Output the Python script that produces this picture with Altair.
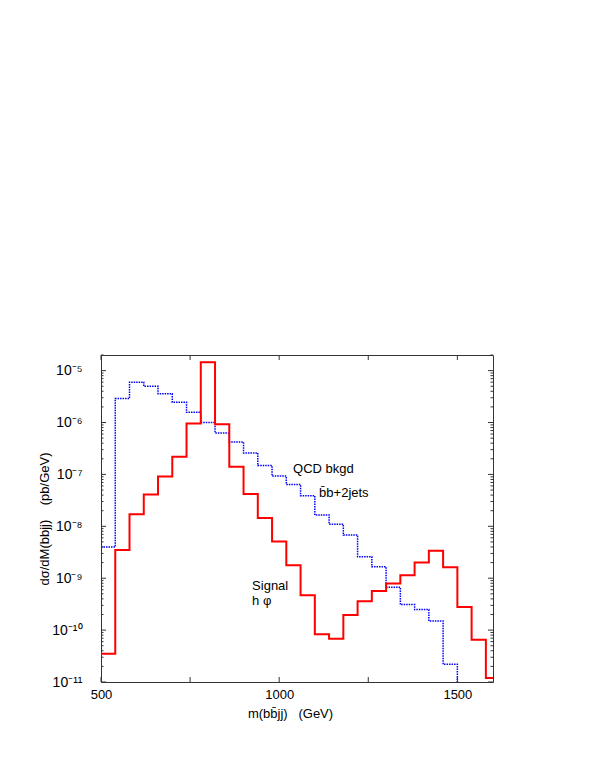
import altair as alt
import pandas as pd

# ---- data ----
bin_lo = [500, 540, 580, 620, 660, 700, 740, 780, 820, 860, 900, 940, 980, 1020,
          1060, 1100, 1140, 1180, 1220, 1260, 1300, 1340, 1380, 1420, 1460, 1500,
          1540, 1580]
bin_width = 40

# QCD background  b bbar + 2 jets  (pb/GeV), bins 500 .. 1460; nothing above 1500
qcd = [4.0e-9, 2.9e-6, 6.0e-6, 5.0e-6, 3.6e-6, 2.45e-6, 1.57e-6, 1.0e-6, 6.3e-7,
       4.2e-7, 2.6e-7, 1.48e-7, 9.3e-8, 6.4e-8, 3.9e-8, 1.65e-8, 1.1e-8, 6.8e-9,
       2.6e-9, 1.66e-9, 6.7e-10, 3.1e-10, 2.5e-10, 1.5e-10, 2.2e-11]
qcd_below = 1e-12   # the histogram falls off the bottom of the plot at 1500 GeV

# Signal h phi (pb/GeV), bins 500 .. 1580
signal = [3.5e-11, 3.5e-9, 1.7e-8, 4.1e-8, 9.1e-8, 2.2e-7, 9.6e-7, 1.45e-5, 9.3e-7,
          1.4e-7, 4.2e-8, 1.44e-8, 5.1e-9, 1.78e-9, 4.7e-10, 8.3e-11, 6.8e-11,
          1.95e-10, 3.6e-10, 5.7e-10, 7.9e-10, 1.14e-9, 2.0e-9, 3.4e-9, 1.62e-9,
          2.8e-10, 6.5e-11, 1.2e-11]

x_domain = [500, 1600]
y_domain = [1e-11, 2e-5]
x_major = [500, 1000, 1500]
x_ticks = [500, 750, 1000, 1250, 1500]
y_exponents = [-11, -10, -9, -8, -7, -6, -5]
minor_mult = [2, 3, 4, 5, 6, 7, 8, 9]

annotations = pd.DataFrame({
    "m": [1039, 1112, 924, 924],
    "v": [1.06e-7, 3.6e-8, 5.8e-10, 3.0e-10],
    "label": ["QCD bkgd", "b\u0304b+2jets", "Signal", "h \u03c6"],
})

# ---- tables ----
n_q = len(qcd)
qcd_df = pd.DataFrame({
    "m": bin_lo[:n_q] + [bin_lo[n_q], bin_lo[n_q] + bin_width],
    "v": qcd + [qcd_below, qcd_below],
})
sig_df = pd.DataFrame({
    "m": bin_lo + [bin_lo[-1] + bin_width],
    "v": signal + [signal[-1]],
})

y_major = [10.0 ** e for e in y_exponents]
y_minor = [m * 10.0 ** e for e in y_exponents for m in minor_mult
           if m * 10.0 ** e <= y_domain[1]]
ymaj_df = pd.DataFrame({"v": y_major})
ymin_df = pd.DataFrame({"v": y_minor})
xt_df = pd.DataFrame({"m": x_ticks})

W, H = 392, 327
FONT = "Liberation Sans"
FRAME = "#333333"

sup = str.maketrans("-0123456789", "\u207b\u2070\u00b9\u00b2\u00b3\u2074\u2075\u2076\u2077\u2078\u2079")
expr = "''"
for e in y_exponents:
    expr = f"abs(log(datum.value)/LN10 - ({e})) < 0.1 ? '10{str(e).translate(sup)}' : ({expr})"

xs = alt.Scale(domain=x_domain, nice=False, zero=False)
ys = alt.Scale(type="log", domain=y_domain, nice=False)

x_axis = alt.Axis(values=x_major, format="d", ticks=False, domain=False, grid=False,
                  labelFlush=False, labelOverlap=False,
                  labelFont=FONT, labelFontSize=13, labelColor="black", labelPadding=6,
                  title="m(bb\u0304jj)\u00a0\u00a0\u00a0(GeV)", titleFont=FONT,
                  titleFontSize=13, titleFontWeight="normal", titleColor="black",
                  titleX=189, titleY=35, titleBaseline="alphabetic", titleAlign="center")
y_axis = alt.Axis(values=y_major, labelExpr=expr, ticks=False, domain=False, grid=False,
                  labelFlush=False, labelOverlap=False,
                  labelFont=FONT, labelFontSize=14, labelColor="black", labelPadding=19,
                  title="d\u03c3/dM(bbjj)\u00a0\u00a0\u00a0\u00a0(pb/GeV)", titleFont=FONT,
                  titleFontSize=13, titleFontWeight="normal", titleColor="black",
                  titleX=-57, titleY=H / 2, titleAngle=-90, titleBaseline="middle",
                  titleAlign="center")

qcd_line = alt.Chart(qcd_df).mark_line(
    interpolate="step-after", color="#0000ff", strokeWidth=1.5, strokeDash=[1.5, 1],
    clip=True
).encode(x=alt.X("m:Q", scale=xs, axis=x_axis), y=alt.Y("v:Q", scale=ys, axis=y_axis))

sig_line = alt.Chart(sig_df).mark_line(
    interpolate="step-after", color="#ff0000", strokeWidth=2, clip=True
).encode(x=alt.X("m:Q", scale=xs), y=alt.Y("v:Q", scale=ys))

def yticks(df, length, right):
    x0 = W if right else 0
    x1 = W - length if right else length
    return alt.Chart(df).mark_rule(color=FRAME, strokeWidth=1).encode(
        y=alt.Y("v:Q", scale=ys), x=alt.value(x0), x2=alt.value(x1))

def xticks(top):
    y0 = 0 if top else H
    y1 = 5 if top else H - 5
    return alt.Chart(xt_df).mark_rule(color=FRAME, strokeWidth=1).encode(
        x=alt.X("m:Q", scale=xs), y=alt.value(y0), y2=alt.value(y1))

texts = alt.Chart(annotations).mark_text(
    align="left", baseline="alphabetic", font=FONT, fontSize=13, color="black"
).encode(x=alt.X("m:Q", scale=xs), y=alt.Y("v:Q", scale=ys), text="label:N")

chart = alt.layer(
    qcd_line, sig_line,
    yticks(ymaj_df, 5, False), yticks(ymin_df, 2.5, False),
    yticks(ymaj_df, 5, True), yticks(ymin_df, 2.5, True),
    xticks(False), xticks(True),
    texts,
).properties(
    width=W, height=H,
    autosize=alt.AutoSizeParams(type="none"),
    padding={"left": 93, "top": 347, "right": 20, "bottom": 60},
).configure_view(stroke=FRAME, strokeWidth=1)

chart.save("out.html", embed_options={"renderer": "svg", "actions": False})
